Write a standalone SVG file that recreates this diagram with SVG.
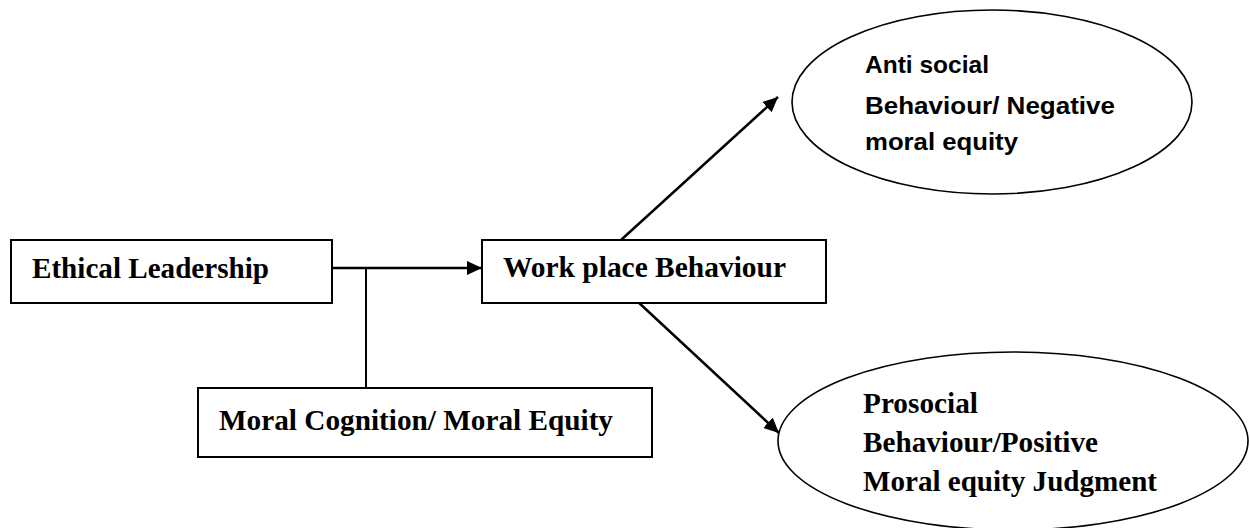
<svg xmlns="http://www.w3.org/2000/svg" width="1250" height="528" viewBox="0 0 1250 528">
<style>
.box{fill:#fff;stroke:#000;stroke-width:2}
.ell{fill:#fff;stroke:#000;stroke-width:1.6}
.serif{font-family:"Liberation Serif","Times New Roman",serif;font-weight:bold;font-size:29px;fill:#000}
.sans{font-family:"Liberation Sans",Arial,sans-serif;font-weight:bold;font-size:24px;fill:#000}
.conn{fill:none;stroke:#000;stroke-width:2.5}
</style>
<defs>
<marker id="arrow" markerUnits="userSpaceOnUse" markerWidth="16" markerHeight="14" refX="15" refY="7" orient="auto">
<path d="M0,0 L15,7 L0,14 z" fill="#000"/>
</marker>
</defs>
<rect width="1250" height="528" fill="#fff"/>
<g id="connectors">
<line class="conn" x1="332" y1="268" x2="482" y2="268" marker-end="url(#arrow)"/>
<line class="conn" x1="366" y1="268" x2="366" y2="388" style="stroke-width:2"/>
<line class="conn" x1="621" y1="240" x2="778" y2="97" marker-end="url(#arrow)"/>
<line class="conn" x1="623" y1="288" x2="779" y2="433" marker-end="url(#arrow)"/>
</g>
<g id="ethical-leadership">
<rect class="box" x="11" y="240" width="321" height="63"/>
<text class="serif" x="32" y="278" textLength="237" lengthAdjust="spacingAndGlyphs">Ethical Leadership</text>
</g>
<g id="moral-cognition">
<rect class="box" x="198" y="388" width="454" height="69"/>
<text class="serif" x="219" y="430" textLength="394" lengthAdjust="spacingAndGlyphs">Moral Cognition/ Moral Equity</text>
</g>
<g id="workplace-behaviour">
<rect class="box" x="482" y="240" width="344" height="63"/>
<text class="serif" x="503" y="277" textLength="283" lengthAdjust="spacingAndGlyphs">Work place Behaviour</text>
</g>
<g id="antisocial">
<ellipse class="ell" cx="992" cy="102" rx="200" ry="92"/>
<text class="sans" x="865" y="73" textLength="124" lengthAdjust="spacingAndGlyphs">Anti social</text>
<text class="sans" x="865" y="114" textLength="250" lengthAdjust="spacingAndGlyphs">Behaviour/ Negative</text>
<text class="sans" x="865" y="150" textLength="153" lengthAdjust="spacingAndGlyphs">moral equity</text>
</g>
<g id="prosocial">
<ellipse class="ell" cx="1013" cy="441" rx="235" ry="89"/>
<text class="serif" x="863" y="413" textLength="115" lengthAdjust="spacingAndGlyphs">Prosocial</text>
<text class="serif" x="863" y="452" textLength="235" lengthAdjust="spacingAndGlyphs">Behaviour/Positive</text>
<text class="serif" x="863" y="491" textLength="294" lengthAdjust="spacingAndGlyphs">Moral equity Judgment</text>
</g>
</svg>
